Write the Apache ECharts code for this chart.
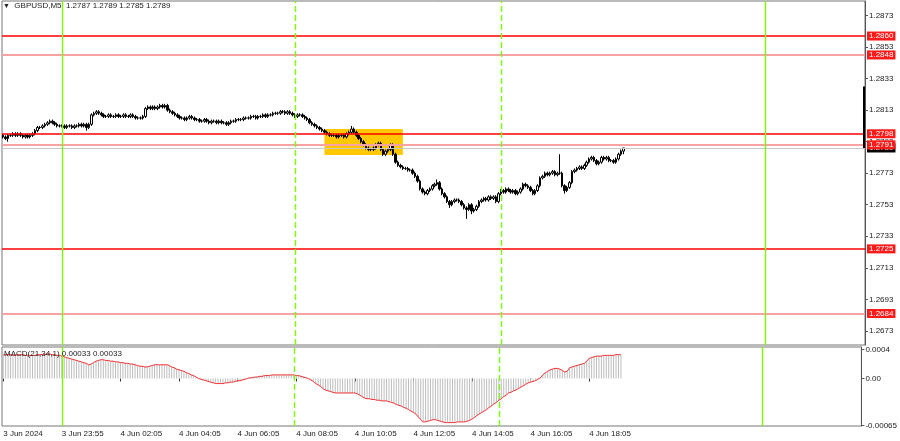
<!DOCTYPE html>
<html><head><meta charset="utf-8">
<script src="https://cdn.jsdelivr.net/npm/echarts@6/dist/echarts.min.js"></script>
<style>html,body{margin:0;padding:0;background:#fff}#c{width:900px;height:441px}</style>
</head><body><div id="c"></div>
<script>
// ---- data (GBPUSD M5) ----
const opens=[
1.2797,1.2796,1.2795,1.2797,1.2797,1.2798,1.2797,1.2798,1.2797,1.2796,1.2797,1.2796,
1.2797,1.2798,1.2800,1.2802,1.2802,1.2803,1.2804,1.2805,1.2806,1.2805,1.2804,1.2803,
1.2803,1.2803,1.2802,1.2803,1.2803,1.2802,1.2803,1.2803,1.2804,1.2803,1.2804,1.2802,
1.2804,1.2810,1.2811,1.2812,1.2811,1.2810,1.2809,1.2809,1.2810,1.2809,1.2809,1.2810,
1.2809,1.2809,1.2810,1.2809,1.2809,1.2810,1.2809,1.2808,1.2808,1.2808,1.2809,1.2814,
1.2815,1.2814,1.2815,1.2814,1.2815,1.2816,1.2815,1.2816,1.2813,1.2812,1.2811,1.2810,
1.2809,1.2808,1.2808,1.2807,1.2808,1.2809,1.2808,1.2807,1.2807,1.2806,1.2806,1.2807,
1.2806,1.2805,1.2806,1.2806,1.2805,1.2806,1.2805,1.2805,1.2804,1.2805,1.2806,1.2806,
1.2807,1.2807,1.2807,1.2808,1.2808,1.2808,1.2809,1.2809,1.2808,1.2809,1.2809,1.2810,
1.2809,1.2810,1.2810,1.2811,1.2811,1.2811,1.2812,1.2812,1.2811,1.2812,1.2811,1.2810,
1.2809,1.2810,1.2810,1.2809,1.2808,1.2807,1.2805,1.2804,1.2803,1.2802,1.2801,1.2800,
1.2799,1.2798,1.2797,1.2797,1.2797,1.2796,1.2797,1.2797,1.2796,1.2798,1.2799,1.2801,
1.2799,1.2797,1.2795,1.2793,1.2791,1.2789,1.2788,1.2788,1.2789,1.2791,1.2792,1.2788,
1.2785,1.2787,1.2788,1.2791,1.2785,1.2780,1.2778,1.2777,1.2776,1.2776,1.2775,1.2775,
1.2773,1.2771,1.2768,1.2763,1.2761,1.2760,1.2762,1.2763,1.2765,1.2766,1.2767,1.2763,
1.2760,1.2758,1.2755,1.2753,1.2755,1.2756,1.2756,1.2755,1.2753,1.2751,1.2750,1.2753,
1.2749,1.2750,1.2752,1.2755,1.2756,1.2757,1.2756,1.2758,1.2757,1.2758,1.2755,1.2760,
1.2762,1.2761,1.2763,1.2762,1.2761,1.2762,1.2760,1.2761,1.2763,1.2766,1.2765,1.2764,
1.2762,1.2760,1.2762,1.2765,1.2770,1.2771,1.2773,1.2772,1.2773,1.2774,1.2772,1.2773,
1.2773,1.2765,1.2762,1.2764,1.2767,1.2774,1.2775,1.2776,1.2777,1.2776,1.2778,1.2780,
1.2782,1.2783,1.2781,1.2779,1.2780,1.2783,1.2782,1.2783,1.2781,1.2781,1.2780,1.2782,1.2785,1.2787];
const closes=[
1.2796,1.2795,1.2797,1.2797,1.2798,1.2797,1.2798,1.2797,1.2796,1.2797,1.2796,1.2797,
1.2798,1.2800,1.2802,1.2802,1.2803,1.2804,1.2805,1.2806,1.2805,1.2804,1.2803,1.2803,
1.2803,1.2802,1.2803,1.2803,1.2802,1.2803,1.2803,1.2804,1.2803,1.2804,1.2802,1.2804,
1.2810,1.2811,1.2812,1.2811,1.2810,1.2809,1.2809,1.2810,1.2809,1.2809,1.2810,1.2809,
1.2809,1.2810,1.2809,1.2809,1.2810,1.2809,1.2808,1.2808,1.2808,1.2809,1.2814,1.2815,
1.2814,1.2815,1.2814,1.2815,1.2816,1.2815,1.2816,1.2813,1.2812,1.2811,1.2810,1.2809,
1.2808,1.2808,1.2807,1.2808,1.2809,1.2808,1.2807,1.2807,1.2806,1.2806,1.2807,1.2806,
1.2805,1.2806,1.2806,1.2805,1.2806,1.2805,1.2805,1.2804,1.2805,1.2806,1.2806,1.2807,
1.2807,1.2807,1.2808,1.2808,1.2808,1.2809,1.2809,1.2808,1.2809,1.2809,1.2810,1.2809,
1.2810,1.2810,1.2811,1.2811,1.2811,1.2812,1.2812,1.2811,1.2812,1.2811,1.2810,1.2809,
1.2810,1.2810,1.2809,1.2808,1.2807,1.2805,1.2804,1.2803,1.2802,1.2801,1.2800,1.2799,
1.2798,1.2797,1.2797,1.2797,1.2796,1.2797,1.2797,1.2796,1.2798,1.2799,1.2801,1.2799,
1.2797,1.2795,1.2793,1.2791,1.2789,1.2788,1.2788,1.2789,1.2791,1.2792,1.2788,1.2785,
1.2787,1.2788,1.2791,1.2785,1.2780,1.2778,1.2777,1.2776,1.2776,1.2775,1.2775,1.2773,
1.2771,1.2768,1.2763,1.2761,1.2760,1.2762,1.2763,1.2765,1.2766,1.2767,1.2763,1.2760,
1.2758,1.2755,1.2753,1.2755,1.2756,1.2756,1.2755,1.2753,1.2751,1.2750,1.2753,1.2749,
1.2750,1.2752,1.2755,1.2756,1.2757,1.2756,1.2758,1.2757,1.2758,1.2755,1.2760,1.2762,
1.2761,1.2763,1.2762,1.2761,1.2762,1.2760,1.2761,1.2763,1.2766,1.2765,1.2764,1.2762,
1.2760,1.2762,1.2765,1.2770,1.2771,1.2773,1.2772,1.2773,1.2774,1.2772,1.2773,1.2773,
1.2765,1.2762,1.2764,1.2767,1.2774,1.2775,1.2776,1.2777,1.2776,1.2778,1.2780,1.2782,
1.2783,1.2781,1.2779,1.2780,1.2783,1.2782,1.2783,1.2781,1.2781,1.2780,1.2782,1.2785,1.2787,1.2789];
const lows=[
1.2795,1.2794,1.2793,1.2796,1.2796,1.2796,1.2796,1.2796,1.2795,1.2795,1.2795,1.2795,
1.2796,1.2797,1.2799,1.2801,1.2801,1.2802,1.2803,1.2804,1.2804,1.2803,1.2802,1.2802,
1.2802,1.2801,1.2801,1.2802,1.2801,1.2801,1.2802,1.2802,1.2802,1.2802,1.2800,1.2801,
1.2803,1.2809,1.2810,1.2810,1.2809,1.2808,1.2808,1.2808,1.2808,1.2808,1.2808,1.2808,
1.2808,1.2808,1.2808,1.2808,1.2808,1.2808,1.2807,1.2807,1.2807,1.2807,1.2808,1.2813,
1.2813,1.2813,1.2813,1.2813,1.2814,1.2814,1.2814,1.2812,1.2811,1.2810,1.2809,1.2808,
1.2807,1.2807,1.2806,1.2806,1.2807,1.2807,1.2806,1.2806,1.2805,1.2805,1.2805,1.2805,
1.2804,1.2804,1.2805,1.2804,1.2804,1.2804,1.2804,1.2803,1.2803,1.2804,1.2805,1.2805,
1.2806,1.2806,1.2806,1.2807,1.2807,1.2807,1.2808,1.2807,1.2807,1.2808,1.2808,1.2808,
1.2808,1.2809,1.2809,1.2810,1.2810,1.2810,1.2811,1.2810,1.2810,1.2810,1.2809,1.2808,
1.2808,1.2809,1.2808,1.2807,1.2806,1.2804,1.2803,1.2802,1.2801,1.2800,1.2799,1.2798,
1.2797,1.2796,1.2796,1.2796,1.2795,1.2795,1.2796,1.2795,1.2795,1.2797,1.2798,1.2798,
1.2796,1.2794,1.2792,1.2790,1.2788,1.2787,1.2787,1.2787,1.2788,1.2790,1.2787,1.2784,
1.2784,1.2786,1.2787,1.2784,1.2779,1.2777,1.2776,1.2775,1.2775,1.2774,1.2774,1.2772,
1.2770,1.2767,1.2762,1.2760,1.2759,1.2759,1.2761,1.2762,1.2764,1.2765,1.2762,1.2759,
1.2757,1.2754,1.2751,1.2752,1.2754,1.2755,1.2754,1.2752,1.2750,1.2744,1.2749,1.2747,
1.2748,1.2749,1.2751,1.2754,1.2755,1.2755,1.2755,1.2756,1.2756,1.2754,1.2754,1.2759,
1.2760,1.2760,1.2761,1.2760,1.2760,1.2759,1.2759,1.2760,1.2762,1.2764,1.2763,1.2761,
1.2759,1.2759,1.2761,1.2764,1.2769,1.2770,1.2771,1.2771,1.2772,1.2771,1.2771,1.2772,
1.2764,1.2760,1.2761,1.2763,1.2766,1.2773,1.2774,1.2775,1.2775,1.2775,1.2777,1.2779,
1.2781,1.2780,1.2778,1.2778,1.2779,1.2781,1.2781,1.2780,1.2780,1.2779,1.2779,1.2781,1.2784,1.2785];
const highs=[
1.2798,1.2797,1.2798,1.2798,1.2799,1.2799,1.2799,1.2799,1.2798,1.2798,1.2798,1.2798,
1.2799,1.2801,1.2803,1.2803,1.2804,1.2805,1.2806,1.2807,1.2807,1.2806,1.2805,1.2804,
1.2804,1.2804,1.2804,1.2804,1.2804,1.2804,1.2804,1.2805,1.2805,1.2805,1.2805,1.2805,
1.2811,1.2812,1.2813,1.2813,1.2812,1.2811,1.2810,1.2811,1.2811,1.2810,1.2811,1.2811,
1.2810,1.2811,1.2811,1.2810,1.2811,1.2811,1.2810,1.2809,1.2809,1.2810,1.2815,1.2816,
1.2816,1.2816,1.2816,1.2816,1.2817,1.2817,1.2817,1.2817,1.2814,1.2813,1.2812,1.2811,
1.2810,1.2809,1.2809,1.2809,1.2810,1.2810,1.2809,1.2808,1.2808,1.2807,1.2808,1.2808,
1.2807,1.2807,1.2807,1.2807,1.2807,1.2807,1.2806,1.2806,1.2806,1.2807,1.2807,1.2808,
1.2808,1.2808,1.2809,1.2809,1.2809,1.2810,1.2810,1.2810,1.2810,1.2810,1.2811,1.2811,
1.2811,1.2811,1.2812,1.2812,1.2812,1.2813,1.2813,1.2813,1.2813,1.2813,1.2812,1.2811,
1.2811,1.2811,1.2811,1.2810,1.2809,1.2808,1.2806,1.2805,1.2804,1.2803,1.2802,1.2801,
1.2800,1.2799,1.2798,1.2798,1.2798,1.2798,1.2798,1.2798,1.2799,1.2800,1.2803,1.2802,
1.2800,1.2798,1.2796,1.2794,1.2792,1.2790,1.2789,1.2790,1.2792,1.2793,1.2793,1.2789,
1.2788,1.2789,1.2792,1.2792,1.2786,1.2781,1.2779,1.2778,1.2777,1.2777,1.2776,1.2776,
1.2774,1.2772,1.2769,1.2764,1.2762,1.2763,1.2764,1.2766,1.2767,1.2769,1.2768,1.2764,
1.2761,1.2759,1.2756,1.2756,1.2757,1.2757,1.2757,1.2756,1.2754,1.2752,1.2754,1.2754,
1.2751,1.2753,1.2756,1.2757,1.2758,1.2758,1.2759,1.2759,1.2759,1.2759,1.2761,1.2763,
1.2763,1.2764,1.2764,1.2763,1.2763,1.2763,1.2762,1.2764,1.2767,1.2767,1.2766,1.2765,
1.2763,1.2763,1.2766,1.2771,1.2772,1.2774,1.2774,1.2774,1.2775,1.2775,1.2774,1.2785,
1.2774,1.2766,1.2765,1.2768,1.2775,1.2776,1.2777,1.2778,1.2778,1.2779,1.2781,1.2783,
1.2784,1.2784,1.2782,1.2781,1.2784,1.2784,1.2784,1.2784,1.2782,1.2782,1.2783,1.2786,1.2788,1.2789];
const macdValues=[
0.00033,0.00033,0.00033,0.00033,0.00032,0.00032,0.00033,0.00033,0.00033,0.00032,0.00032,0.00032,
0.00032,0.00032,0.00033,0.00033,0.00033,0.00033,0.00034,0.00034,0.00033,0.00033,0.00032,0.00032,
0.00031,0.00030,0.00029,0.00028,0.00027,0.00026,0.00025,0.00024,0.00023,0.00022,0.00021,0.00019,
0.00020,0.00022,0.00024,0.00025,0.00026,0.00026,0.00025,0.00025,0.00024,0.00024,0.00023,0.00023,
0.00022,0.00022,0.00021,0.00021,0.00020,0.00020,0.00019,0.00018,0.00017,0.00017,0.00016,0.00016,
0.00017,0.00018,0.00019,0.00019,0.00019,0.00019,0.00019,0.00019,0.00018,0.00016,0.00015,0.00013,
0.00012,0.00011,0.00010,0.00008,0.00007,0.00005,0.00004,0.00002,0,-0.00001,-0.00002,-0.00003,
-0.00004,-0.00005,-0.00006,-0.00007,-0.00007,-0.00007,-0.00007,-0.00006,-0.00006,-0.00005,-0.00005,-0.00004,
-0.00003,-0.00003,-0.00002,-0.00001,0,0.00001,0.00001,0.00002,0.00002,0.00003,0.00003,0.00004,
0.00004,0.00004,0.00005,0.00005,0.00005,0.00005,0.00005,0.00005,0.00005,0.00005,0.00005,0.00005,
0.00004,0.00004,0.00003,0.00002,0.00001,0,-0.00002,-0.00004,-0.00007,-0.00009,-0.00011,-0.00014,
-0.00016,-0.00017,-0.00018,-0.00019,-0.0002,-0.0002,-0.0002,-0.0002,-0.0002,-0.0002,-0.0002,-0.0002,
-0.0002,-0.00021,-0.00023,-0.00025,-0.00027,-0.00028,-0.00028,-0.00029,-0.00029,-0.0003,-0.0003,-0.00031,
-0.00031,-0.00031,-0.00032,-0.00033,-0.00034,-0.00036,-0.00037,-0.00038,-0.0004,-0.00041,-0.00043,-0.00045,
-0.00047,-0.00049,-0.00053,-0.00057,-0.0006,-0.0006,-0.00059,-0.00058,-0.00057,-0.00057,-0.00058,-0.00059,
-0.0006,-0.00061,-0.00061,-0.00061,-0.00061,-0.00061,-0.0006,-0.0006,-0.0006,-0.0006,-0.00059,-0.00058,
-0.00056,-0.00054,-0.00051,-0.00049,-0.00047,-0.00045,-0.00043,-0.0004,-0.00038,-0.00035,-0.00033,-0.0003,
-0.00028,-0.00025,-0.00023,-0.0002,-0.00019,-0.00017,-0.00016,-0.00014,-0.00012,-0.0001,-0.00008,-0.00006,
-0.00005,-0.00004,-0.00003,-0.00001,0.00001,0.00005,0.00008,0.0001,0.00012,0.00013,0.00014,0.00014,
0.00013,0.00011,0.00009,0.0001,0.00015,0.00016,0.00017,0.00018,0.00019,0.0002,0.00021,0.00024,
0.00028,0.00029,0.0003,0.00031,0.00031,0.00031,0.00032,0.00032,0.00032,0.00032,0.00032,0.00033,0.00033,0.00033];

const levelsStrong=[1.2860,1.2798,1.2725];
const levelsWeak=[1.2848,1.2791,1.2684];
const bidPrice=1.2789;
const axisMarkerRange=[1.2828,1.2789];
const priceTicks=[1.2873,1.2853,1.2833,1.2813,1.2793,1.2773,1.2753,1.2733,1.2713,1.2693,1.2673];
const macdTicks=[0.0004,0,-0.00065];
const macdTickLabels=['0.0004','0.00','-0.00065'];
const timeLabels=['3 Jun 2024','3 Jun 23:55','4 Jun 02:05','4 Jun 04:05','4 Jun 06:05','4 Jun 08:05','4 Jun 10:05','4 Jun 12:05','4 Jun 14:05','4 Jun 16:05','4 Jun 18:05'];
const timeLabelSlots=[0,24,48,72,96,120,144,168,192,216,240];
const daySeparatorSlots=[24,311];
const sessionSlots=[119,203];
const zoneSlots=[131,163];
const zonePrices=[1.2801,1.27845];
const headerText='GBPUSD,M5  1.2787 1.2789 1.2785 1.2789';
const macdTitle='MACD(21,34,1) 0.00033 0.00033';
const totalSlots=352;

// ---- chart ----
const FONT='Liberation Sans';
const GREEN='#7cfc00';
const cats=Array.from({length:totalSlots},(_,i)=>String(i));
const candles=opens.map((o,i)=>[o,closes[i],lows[i],highs[i]]);
const boxLabel=(txt,bg)=>({show:true,position:'end',distance:2,formatter:txt,color:'#fff',backgroundColor:bg,padding:[1,2,0,2],fontSize:8,fontFamily:FONT});
function makePriceLines(){
  const out=[];
  out.push({yAxis:bidPrice,lineStyle:{color:'#c8c8c8',width:1,type:'solid'},label:boxLabel(bidPrice.toFixed(4),'#000')});
  levelsWeak.forEach(v=>out.push({yAxis:v,lineStyle:{color:'#f7a3a3',width:2,type:'solid'},label:boxLabel(v.toFixed(4),'#ff1a1a')}));
  levelsStrong.forEach(v=>out.push({yAxis:v,lineStyle:{color:'#ff0000',width:1.5,type:'solid'},label:boxLabel(v.toFixed(4),'#ff1a1a')}));
  out.push([{coord:[totalSlots-1,axisMarkerRange[0]],lineStyle:{color:'#000',width:2,type:'solid'},label:{show:false}},{coord:[totalSlots-1,axisMarkerRange[1]]}]);
  return out;
}
function vLineSeries(gridIdx,slots,dashed){
  return {type:'line',xAxisIndex:gridIdx,yAxisIndex:gridIdx,data:[],silent:true,z:5,
    markLine:{silent:true,symbol:['none','none'],precision:6,animation:false,label:{show:false},
      emphasis:{disabled:true},
      lineStyle:{color:GREEN,width:1.4,type:dashed?[6,3]:'solid',opacity:1},
      data:slots.map(s=>({xAxis:s}))}};
}

const option={
  animation:false,
  backgroundColor:'#fff',
  title:[
    {text:'{t|▼}  '+headerText,left:3,top:2,padding:0,textStyle:{fontSize:8,fontWeight:'normal',fontFamily:FONT,color:'#222',rich:{t:{fontSize:7,color:'#222'}}}},
    {text:macdTitle,left:4,top:350,padding:0,textStyle:{fontSize:8,fontWeight:'normal',fontFamily:FONT,color:'#222'}}
  ],
  grid:[
    {left:2,right:35,top:1,height:344,show:true,borderColor:'#777',borderWidth:1,backgroundColor:'transparent'},
    {left:2,right:35,top:347,height:79,show:true,borderColor:'#777',borderWidth:1,backgroundColor:'transparent'}
  ],
  xAxis:[
    {gridIndex:0,type:'category',data:cats,boundaryGap:true,axisLine:{show:false},axisTick:{show:false},axisLabel:{show:false},splitLine:{show:false}},
    {gridIndex:1,type:'category',data:cats,boundaryGap:true,axisLine:{show:false},
     axisTick:{show:true,alignWithLabel:true,length:3,interval:(i)=>timeLabelSlots.includes(i),lineStyle:{color:'#333'}},
     axisLabel:{show:true,interval:0,align:'left',margin:4,fontSize:8,fontFamily:FONT,color:'#222',
       formatter:(v,i)=>{const k=timeLabelSlots.indexOf(i);return k>=0?timeLabels[k]:'';}},
     splitLine:{show:false}}
  ],
  yAxis:[
    {gridIndex:0,type:'value',position:'right',min:1.266403,max:1.288222,scale:true,
     axisLine:{show:true,lineStyle:{color:'#555'}},
     axisTick:{show:true,length:3,customValues:priceTicks,lineStyle:{color:'#555'}},
     axisLabel:{show:true,customValues:priceTicks,margin:4,fontSize:8,fontFamily:FONT,color:'#222',formatter:v=>v.toFixed(4)},
     splitLine:{show:false}},
    {gridIndex:1,type:'value',position:'right',min:-0.000657,max:0.000436,
     axisLine:{show:true,lineStyle:{color:'#555'}},
     axisTick:{show:true,length:3,customValues:macdTicks,lineStyle:{color:'#555'}},
     axisLabel:{show:true,customValues:macdTicks,margin:4,fontSize:8,fontFamily:FONT,color:'#222',
       formatter:v=>{let b=0,d=1;macdTicks.forEach((t,k)=>{if(Math.abs(t-v)<d){d=Math.abs(t-v);b=k;}});return macdTickLabels[b];}},
     splitLine:{show:false}}
  ],
  series:[
    {type:'candlestick',xAxisIndex:0,yAxisIndex:0,data:candles,barWidth:2,
     itemStyle:{color:'#ffffff',color0:'#000000',borderColor:'#000000',borderColor0:'#000000',borderWidth:1},
     markArea:{silent:true,itemStyle:{color:'#ffc800',opacity:1},
       data:[[{xAxis:zoneSlots[0],yAxis:zonePrices[0]},{xAxis:zoneSlots[1],yAxis:zonePrices[1]}]]},
     markLine:{silent:true,symbol:['none','none'],precision:6,animation:false,data:makePriceLines()},
     z:3},
    {type:'bar',xAxisIndex:1,yAxisIndex:1,data:macdValues,barWidth:1,itemStyle:{color:'#bdbdbd'}},
    {type:'line',xAxisIndex:1,yAxisIndex:1,data:macdValues,symbol:'none',lineStyle:{color:'#f03030',width:1},z:4},
    vLineSeries(0,daySeparatorSlots,false),
    vLineSeries(0,sessionSlots,true),
    vLineSeries(1,daySeparatorSlots,false),
    vLineSeries(1,sessionSlots,true)
  ]
};
const chart=echarts.init(document.getElementById('c'),null,{renderer:'canvas'});
chart.setOption(option);
</script></body></html>
